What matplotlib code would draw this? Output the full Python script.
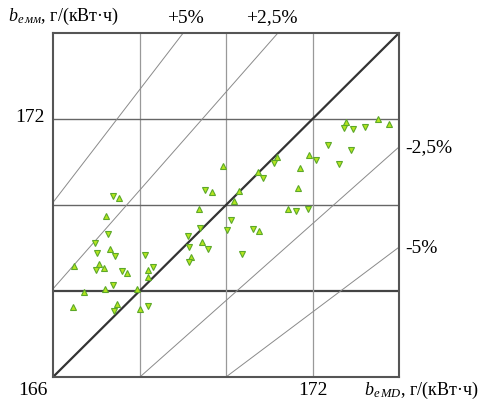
import matplotlib
matplotlib.use('Agg')
import matplotlib.pyplot as plt

plt.rcParams['font.family'] = ['Liberation Serif', 'DejaVu Serif']
plt.rcParams['mathtext.fontset'] = 'custom'
plt.rcParams['mathtext.rm'] = 'Liberation Serif'
plt.rcParams['mathtext.it'] = 'Liberation Serif:italic'

# расход топлива: измерено (x) / модель (y), г/(кВт·ч)
up_x = [167.53, 167.23, 167.32, 166.49, 167.06, 167.17, 167.72, 168.20, 168.20,
        166.72, 167.20, 167.94, 166.46, 167.48, 168.00, 169.94, 171.17, 170.74,
        169.67, 170.29, 170.19, 169.38, 170.77, 169.45, 169.20, 172.78, 173.52,
        173.77, 171.91, 171.72, 171.67, 171.43]
up_y = [170.16, 169.74, 168.98, 168.58, 168.62, 168.53, 168.43, 168.50, 168.33,
        167.97, 168.05, 168.05, 167.63, 167.70, 167.58, 170.90, 171.11, 170.77,
        170.31, 170.33, 170.10, 169.90, 169.39, 169.13, 168.78, 171.94, 172.00,
        171.88, 171.17, 170.85, 170.40, 169.91]

down_x = [167.38, 167.27, 166.97, 167.01, 167.43, 168.12, 167.00, 167.59, 168.31,
          167.39, 167.41, 168.19, 171.11, 170.85, 169.52, 171.61, 170.11, 169.41,
          170.02, 170.63, 169.11, 169.15, 169.58, 169.14, 170.36, 172.72, 172.94,
          173.21, 172.35, 172.88, 172.08, 172.62, 171.90]
down_y = [170.20, 169.32, 169.12, 168.88, 168.82, 168.84, 168.50, 168.46, 168.56,
          168.14, 167.54, 167.66, 170.98, 170.62, 170.36, 169.87, 169.64, 169.47,
          169.43, 169.44, 169.27, 169.02, 168.98, 168.67, 168.86, 171.80, 171.77,
          171.81, 171.40, 171.28, 171.05, 170.95, 169.90]

# линии отклонений: (x1, y1, x2, y2)
pct_labels = ['+5%', '+2,5%', '-2,5%', '-5%']
pct_lines = [(166.0, 170.06, 169.01, 174.0),
             (166.0, 168.05, 171.20, 174.0),
             (168.01, 166.0, 174.0, 171.35),
             (170.0, 166.0, 174.0, 169.02)]

lim = (166, 174)
grid_vals = [168, 170, 172]

fig = plt.figure(figsize=(4.88, 4.02), dpi=100)
ax = fig.add_axes([53 / 488, 24 / 402, 346 / 488, 344 / 402])
ax.set_xlim(lim)
ax.set_ylim(lim)
ax.set_xticks([])
ax.set_yticks([])
for s in ax.spines.values():
    s.set_linewidth(1.5)
    s.set_color('#555555')

for g in grid_vals:
    ax.axvline(g, color='#999999', lw=0.9, zorder=1)
    if g == 168:
        ax.axhline(g, color='#444444', lw=1.6, zorder=1)
    else:
        ax.axhline(g, color='#666666', lw=1.0, zorder=1)

ax.plot(lim, lim, color='#333333', lw=1.6, zorder=2)
for x1, y1, x2, y2 in pct_lines:
    ax.plot([x1, x2], [y1, y2], color='#8a8a8a', lw=0.7, zorder=2)

ax.plot(up_x, up_y, '^', ms=4.5, mfc='#b5e61d', mec='#5ca82a', mew=0.8, ls='none', zorder=3)
ax.plot(down_x, down_y, 'v', ms=4.5, mfc='#b5e61d', mec='#5ca82a', mew=0.8, ls='none', zorder=3)

fs = 14
kw = dict(clip_on=False, va='center')
ax.text(169.05, 174.37, pct_labels[0], ha='center', fontsize=fs, **kw)
ax.text(171.06, 174.37, pct_labels[1], ha='center', fontsize=fs, **kw)
ax.text(174.14, 171.35, pct_labels[2], ha='left', fontsize=fs, **kw)
ax.text(174.14, 169.02, pct_labels[3], ha='left', fontsize=fs, **kw)

ax.text(165.54, 165.72, '166', ha='center', fontsize=fs, **kw)
ax.text(172.01, 165.72, '172', ha='center', fontsize=fs, **kw)
ax.text(165.47, 172.05, '172', ha='center', fontsize=fs, **kw)

ax.text(164.96, 174.42, r'$b_{e\,мм}$, г/(кВт·ч)', ha='left', fontsize=13, **kw)
ax.text(173.19, 165.72, r'$b_{e\,MD}$, г/(кВт·ч)', ha='left', fontsize=13, **kw)

plt.savefig('out.png', dpi=100)
